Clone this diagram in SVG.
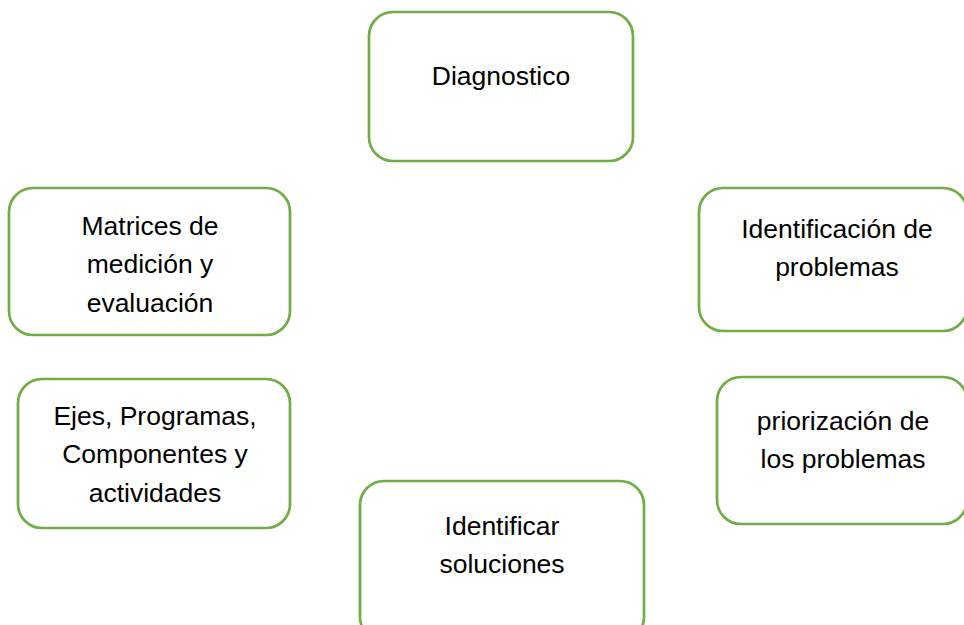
<svg xmlns="http://www.w3.org/2000/svg" width="964" height="625" viewBox="0 0 964 625">
<style>
.box{fill:#fff;stroke:#70AD47;stroke-width:2.7}
.t{font-family:"Liberation Sans",Arial,sans-serif;font-size:26.5px;fill:#000;text-anchor:middle}
</style>
<rect width="964" height="625" fill="#fff"/>
<g id="connectors"></g>
<g id="diagnostico"><rect class="box" x="369" y="12" width="264" height="149" rx="24"/><text class="t" x="501" y="85">Diagnostico</text></g>
<g id="identificacion"><rect class="box" x="699" y="188" width="268" height="143" rx="24"/><text class="t" x="837" y="238">Identificación de</text><text class="t" x="837" y="276">problemas</text></g>
<g id="priorizacion"><rect class="box" x="717" y="377" width="250" height="147" rx="24"/><text class="t" x="843" y="430">priorización de</text><text class="t" x="843" y="468">los problemas</text></g>
<g id="soluciones"><rect class="box" x="360" y="481" width="284" height="160" rx="24"/><text class="t" x="502" y="535">Identificar</text><text class="t" x="502" y="573">soluciones</text></g>
<g id="ejes"><rect class="box" x="18" y="379" width="272" height="149" rx="24"/><text class="t" x="155" y="425">Ejes, Programas,</text><text class="t" x="155" y="463">Componentes y</text><text class="t" x="155" y="502">actividades</text></g>
<g id="matrices"><rect class="box" x="9" y="188" width="281" height="147" rx="24"/><text class="t" x="150" y="235">Matrices de</text><text class="t" x="150" y="273">medición y</text><text class="t" x="150" y="312">evaluación</text></g>
</svg>
